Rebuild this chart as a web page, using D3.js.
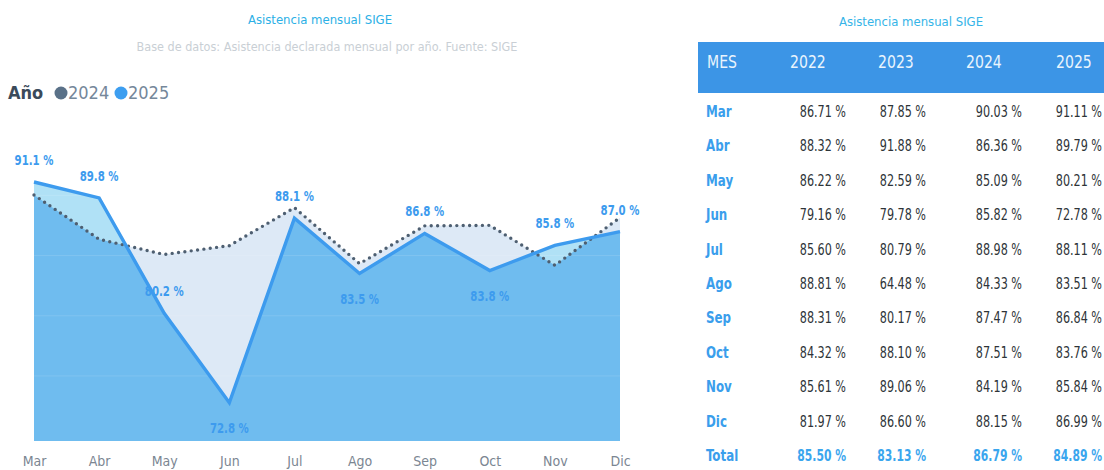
<!DOCTYPE html>
<html>
<head>
<meta charset="utf-8">
<script src="https://cdn.jsdelivr.net/npm/d3@7"></script>
<style>
  html, body { margin:0; padding:0; background:#fff; }
  svg text { font-family:"DejaVu Sans Condensed","Liberation Sans Narrow",sans-serif; }
</style>
</head>
<body>
<div id="chart"></div>
<script>
/* Asistencia mensual SIGE — area/line chart + table */

const MONTHS = ["Mar","Abr","May","Jun","Jul","Ago","Sep","Oct","Nov","Dic"];
const YEARS  = ["2022","2023","2024","2025"];
const V2022  = [86.71,88.32,86.22,79.16,85.60,88.81,88.31,84.32,85.61,81.97];
const V2023  = [87.85,91.88,82.59,79.78,80.79,64.48,80.17,88.10,89.06,86.60];
const V2024  = [90.03,86.36,85.09,85.82,88.98,84.33,87.47,87.51,84.19,88.15];
const V2025  = [91.11,89.79,80.21,72.78,88.11,83.51,86.84,83.76,85.84,86.99];
const TOTALS = [85.50,83.13,86.79,84.89];
const GRID   = [75,80,85,90];

const W = 1104, H = 470;
const BLUE = "#3d9bee", DOT = "#4e5f71";

const svg = d3.select("#chart").append("svg").attr("width",W).attr("height",H);

// narrow text helper: squeeze horizontally to mimic the condensed face
function ntext(sel, x, y, sx, anchor){
  return sel.append("text").attr("transform",`translate(${x},${y}) scale(${sx},1)`)
    .attr("text-anchor",anchor||"start");
}

/* ---------- titles + legend ---------- */
svg.append("text").attr("x",320).attr("y",24).attr("text-anchor","middle")
  .style("font-size","13px").attr("fill","#2cb0e6").text("Asistencia mensual SIGE");
svg.append("text").attr("x",327).attr("y",51).attr("text-anchor","middle")
  .style("font-size","12.5px").attr("fill","#c9cfd5")
  .text("Base de datos: Asistencia declarada mensual por año. Fuente: SIGE");

const leg = svg.append("g").attr("transform","translate(8,99)");
leg.append("text").attr("x",0).attr("y",0).style("font-size","18px")
  .style("font-weight","bold").attr("fill","#3b4a5a").text("Año");
[["2024","#5a7188"],["2025","#3d9ef0"]].forEach(([t,c],i)=>{
  const gx = 53 + i*60;
  leg.append("circle").attr("cx",gx).attr("cy",-6).attr("r",6.5).attr("fill",c);
  leg.append("text").attr("x",gx+7).attr("y",0).style("font-size","18px")
    .attr("fill","#75879a").text(t);
});

/* ---------- chart ---------- */
const x = d3.scalePoint().domain(MONTHS).range([34,620]);
const y = d3.scaleLinear().domain([69.6,91.11]).range([441,182]);

const d24 = MONTHS.map((m,i)=>({m, v:V2024[i]}));
const d25 = MONTHS.map((m,i)=>({m, v:V2025[i]}));

const area = d3.area().x(d=>x(d.m)).y0(y(69.6)).y1(d=>y(d.v));
const line = d3.line().x(d=>x(d.m)).y(d=>y(d.v));

const defs = svg.append("defs");
defs.append("clipPath").attr("id","clip25").append("path").attr("d",area(d25));

const g = svg.append("g");
g.append("path").attr("d",area(d24)).attr("fill","#dde9f6");   // 2024 only
g.append("path").attr("d",area(d25)).attr("fill","#b0e1f6");   // 2025 only
g.append("path").attr("d",area(d24)).attr("fill","#6fbcef")    // overlap
  .attr("clip-path","url(#clip25)");

/* faint gridlines inside fill */
g.selectAll("line.grid").data(GRID).enter().append("line").attr("class","grid")
  .attr("x1",x.range()[0]).attr("x2",x.range()[1])
  .attr("y1",d=>y(d)).attr("y2",d=>y(d))
  .attr("stroke","#fff").attr("stroke-opacity",0.12).attr("stroke-width",1);

g.append("path").attr("d",line(d24)).attr("fill","none").attr("stroke",DOT)
  .attr("stroke-width",3.4).attr("stroke-linecap","round").attr("stroke-dasharray","0 6.4");
g.append("path").attr("d",line(d25)).attr("fill","none").attr("stroke",BLUE)
  .attr("stroke-width",3.4).attr("stroke-linejoin","miter");

/* data labels: below for local minima */
const fmt1 = d3.format(".1f");
d25.forEach((d,i)=>{
  const below = i>0 && i<d25.length-1 && d.v<d25[i-1].v && d.v<d25[i+1].v;
  ntext(g, x(d.m), below ? y(d.v)+30 : y(d.v)-17, 0.78, "middle")
    .style("font-size","14.5px").style("font-weight","bold")
    .attr("fill",BLUE).text(`${fmt1(d.v)} %`);
});

/* x axis */
const xAxis = svg.append("g").attr("transform","translate(0,449)")
  .call(d3.axisBottom(x).tickSize(0).tickPadding(7));
xAxis.select(".domain").remove();
xAxis.selectAll("text").style("font-size","14px").attr("fill","#7b8692")
  .style("font-family","'DejaVu Sans Condensed',sans-serif");

/* ---------- table ---------- */
const T = svg.append("g");
T.append("text").attr("x",911).attr("y",26).attr("text-anchor","middle")
  .style("font-size","13px").attr("fill","#35b4e8").text("Asistencia mensual SIGE");
T.append("rect").attr("x",698).attr("y",42).attr("width",W-698).attr("height",51)
  .attr("fill","#3c95e6");

const headX = [707,790,878,966,1056];
["MES",...YEARS].forEach((t,i)=>{
  ntext(T, headX[i], 68, 0.92).style("font-size","17px")
    .attr("fill","#e9f4fd").text(t);
});

const colR = [846,926,1022,1102];
const cols = [V2022,V2023,V2024,V2025];
const fmt2 = v=>`${d3.format(".2f")(v)} %`;
const rowY = d3.scaleLinear().domain([0,10]).range([117,461]);

MONTHS.forEach((m,r)=>{
  ntext(T, 706, rowY(r), 0.88).style("font-size","15px")
    .style("font-weight","bold").attr("fill","#3a9eec").text(m);
  cols.forEach((c,j)=>{
    ntext(T, colR[j], rowY(r), 0.83, "end")
      .style("font-size","15px").attr("fill","#2e3438").text(fmt2(c[r]));
  });
});
ntext(T, 706, rowY(10), 0.88).style("font-size","15px")
  .style("font-weight","bold").attr("fill","#3a9eec").text("Total");
TOTALS.forEach((v,j)=>{
  ntext(T, colR[j], rowY(10), 0.8, "end")
    .style("font-size","15px").style("font-weight","bold").attr("fill","#3aa6ee").text(fmt2(v));
});
</script>
</body>
</html>
